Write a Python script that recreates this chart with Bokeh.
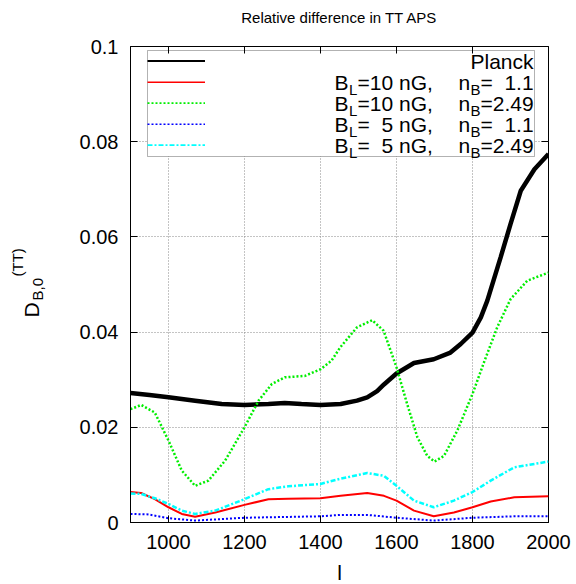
import math
from bokeh.plotting import figure
from bokeh.models import (Legend, LegendItem, Label, LinearAxis, FixedTicker, Range1d,
                          BoxAnnotation)
from bokeh.embed import file_html
from bokeh.resources import INLINE

# ---------------- data ----------------
planck_l = [900, 950, 1000, 1070, 1140, 1200, 1263, 1306, 1350, 1400, 1453, 1496,
            1523, 1549, 1567, 1600, 1646, 1698, 1742, 1769, 1800, 1822, 1839, 1874,
            1900, 1927, 1963, 2000]
planck_v = [0.0272, 0.0268, 0.0263, 0.0256, 0.0249, 0.0247, 0.0249, 0.0251, 0.0249,
            0.0247, 0.0249, 0.0256, 0.0263, 0.0276, 0.0290, 0.0313, 0.0335, 0.0343,
            0.0357, 0.0375, 0.0399, 0.0431, 0.0466, 0.0557, 0.0627, 0.0697, 0.0742,
            0.0774]

b10_n249_l = [900, 928, 964, 1000, 1035, 1070, 1105, 1149, 1200, 1237, 1272, 1306,
              1359, 1400, 1429, 1452, 1496, 1536, 1566, 1600, 1628, 1655, 1681, 1700,
              1725, 1760, 1800, 1830, 1865, 1900, 1944, 2000]
b10_n249_v = [0.0238, 0.0247, 0.0231, 0.0172, 0.0109, 0.0077, 0.0088, 0.0130, 0.0200,
              0.0256, 0.0291, 0.0305, 0.0308, 0.0322, 0.0340, 0.0368, 0.0410, 0.0425,
              0.0403, 0.0326, 0.0249, 0.0179, 0.0140, 0.0128, 0.0140, 0.0193, 0.0270,
              0.0336, 0.0410, 0.0469, 0.0508, 0.0525]

b10_n11_l = [900, 928, 964, 1000, 1035, 1070, 1123, 1200, 1263, 1315, 1400, 1453,
             1523, 1567, 1600, 1646, 1698, 1751, 1800, 1848, 1910, 2000]
b10_n11_v = [0.0064, 0.0062, 0.0049, 0.0032, 0.0018, 0.0012, 0.0021, 0.0037, 0.0049,
             0.0050, 0.0051, 0.0056, 0.0062, 0.0056, 0.0046, 0.0025, 0.0013, 0.0021,
             0.0032, 0.0044, 0.0053, 0.0055]

b5_n249_l = [900, 928, 964, 1000, 1035, 1070, 1123, 1200, 1263, 1315, 1400, 1453,
             1523, 1567, 1600, 1646, 1698, 1751, 1800, 1848, 1910, 2000]
b5_n249_v = [0.0061, 0.0060, 0.0051, 0.0039, 0.0025, 0.0018, 0.0025, 0.0049, 0.0070,
             0.0076, 0.0081, 0.0092, 0.0104, 0.0098, 0.0077, 0.0046, 0.0032, 0.0046,
             0.0064, 0.0088, 0.0116, 0.0128]

b5_n11_l = [900, 947, 1000, 1070, 1200, 1400, 1453, 1523, 1600, 1698, 1800, 1910, 2000]
b5_n11_v = [0.0018, 0.0017, 0.0009, 0.0004, 0.0010, 0.0013, 0.0016, 0.0016, 0.0010,
            0.0004, 0.0010, 0.0013, 0.0013]

x_ticks = [1000, 1200, 1400, 1600, 1800, 2000]
y_ticks = [0, 0.02, 0.04, 0.06, 0.08, 0.1]
y_tick_labels = ["0", "0.02", "0.04", "0.06", "0.08", "0.1"]

title_text = "Relative difference in TT APS"
x_label = "l"
legend_bl = ["10", "10", "\u00a0\u00a05", "\u00a0\u00a05"]
legend_nb = ["\u00a0\u00a01.1", "2.49", "\u00a0\u00a01.1", "2.49"]

FONT = "Liberation Sans"
X0, X1, Y0, Y1 = 900, 2000, 0.0, 0.1

# ---------------- figure ----------------
FL, FR, FT, FB = 130, 28, 46, 62
W, H = 576, 584
FW, FH = W - FL - FR, H - FT - FB
p = figure(width=W, height=H, output_backend="svg", toolbar_location=None,
           x_range=Range1d(X0, X1), y_range=Range1d(Y0, Y1),
           min_border_left=FL, min_border_right=FR, min_border_top=FT,
           min_border_bottom=FB)
p.background_fill_color = "white"
p.border_fill_color = "white"
p.outline_line_color = "black"
p.outline_line_width = 1

for ax in (p.xaxis, p.yaxis):
    ax.major_tick_in = 7
    ax.major_tick_out = 0
    ax.minor_tick_line_color = None
    ax.axis_line_color = "black"
    ax.major_tick_line_color = "black"
    ax.major_label_text_font = FONT
    ax.major_label_text_font_size = "20px"
    ax.major_label_text_color = "black"

p.xaxis.ticker = FixedTicker(ticks=x_ticks)
p.yaxis.ticker = FixedTicker(ticks=y_ticks)
p.yaxis.major_label_overrides = {t: s for t, s in zip(y_ticks, y_tick_labels)}
p.xaxis.major_label_standoff = 12
p.yaxis.major_label_standoff = 12

# mirrored ticks on top and right (no labels)
for loc, tick in (("above", x_ticks), ("right", y_ticks)):
    ax = LinearAxis(ticker=FixedTicker(ticks=tick), major_tick_in=7, major_tick_out=0,
                    minor_tick_line_color=None, axis_line_color=None,
                    major_label_text_color=None, major_label_text_font_size="1px",
                    major_label_standoff=0)
    p.add_layout(ax, loc)

p.xgrid.ticker = FixedTicker(ticks=x_ticks)
p.ygrid.ticker = FixedTicker(ticks=y_ticks)
for g in (p.xgrid, p.ygrid):
    g.grid_line_color = "#888888"
    g.grid_line_dash = "1 2"
    g.grid_line_width = 1


def to_data(px, py):
    return (X0 + (px - FL) * (X1 - X0) / FW, Y0 + ((H - FB) - py) * (Y1 - Y0) / FH)


# white legend panel (hides the grid behind the key)
LEG_L, LEG_T, LEG_R, LEG_B = 147, 50, 534, 156
bl, bt = to_data(LEG_L, LEG_T)
br, bb = to_data(LEG_R, LEG_B)
p.add_layout(BoxAnnotation(left=bl, right=br, top=bt, bottom=bb, level="underlay",
                           fill_color="white", fill_alpha=1, line_color="black",
                           line_width=1))

# ---------------- curves ----------------
r_planck = p.line(planck_l, planck_v, line_color="black", line_width=4.5)
r_b10_11 = p.line(b10_n11_l, b10_n11_v, line_color="#ff0000", line_width=2)
r_b10_249 = p.line(b10_n249_l, b10_n249_v, line_color="#00ee00", line_width=2.5,
                   line_dash="2 2")
r_b5_11 = p.line(b5_n11_l, b5_n11_v, line_color="#0000ff", line_width=2,
                 line_dash="2 2")
r_b5_249 = p.line(b5_n249_l, b5_n249_v, line_color="#00ffff", line_width=2.5,
                  line_dash="5 2 2 2")

renderers = [r_planck, r_b10_11, r_b10_249, r_b5_11, r_b5_249]

# ---------------- legend samples ----------------
legend = Legend(items=[LegendItem(label="\u00a0", renderers=[r]) for r in renderers],
                location=(LEG_L - FL, (H - FB) - LEG_B + 10),
                padding=10, spacing=19, glyph_height=2, glyph_width=58,
                label_height=2, label_width=309, label_standoff=0,
                label_text_font_size="1px", label_text_color=None, margin=0,
                border_line_color=None, background_fill_alpha=0)
p.add_layout(legend)


def lab(px, py, text, size, align="left", angle=0.0, place=None):
    x, y = to_data(px, py)
    l = Label(x=x, y=y, x_units="data", y_units="data", level="overlay",
              text=text, text_font=FONT, text_font_size=f"{size}px",
              text_color="black", text_align=align,
              text_baseline="middle", angle=angle)
    if place is None:
        p.add_layout(l)
    else:
        p.add_layout(l, place)


row_c = [61, 82, 103, 124, 145]
lab(533, row_c[0], "Planck", 21, align="right")
for i in range(4):
    rc = row_c[i + 1]
    lab(334, rc, "B", 21)
    lab(348.5, rc + 6.5, "L", 15)
    lab(357, rc, "=" + legend_bl[i] + " nG,", 21)
    lab(458, rc, "n", 21)
    lab(470, rc + 6.5, "B", 15)
    lab(480, rc, "=" + legend_nb[i], 21)

# title
lab(339, 16.5, title_text, 15, align="center", place="above")
# x label
lab(339, 572, x_label, 21, align="center", place="below")
# y label D_{B,0}^{(TT)}
lab(30.5, 317, "D", 21, angle=math.pi / 2, place="left")
lab(37, 300, "B,0", 15, angle=math.pi / 2, place="left")
lab(17, 276, "(TT)", 15, angle=math.pi / 2, place="left")

open("out.html", "w").write(file_html(p, INLINE))
